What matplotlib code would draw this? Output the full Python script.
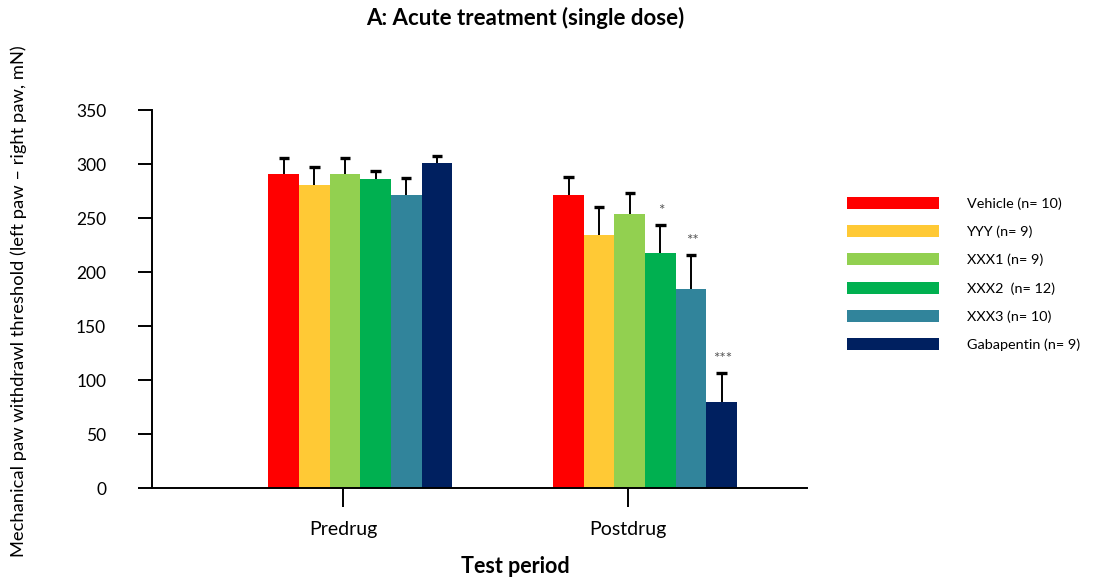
import matplotlib.pyplot as plt

plt.rcParams['font.family'] = ['Lato', 'DejaVu Sans']

periods = ["Predrug", "Postdrug"]
groups = ["Vehicle (n= 10)", "YYY (n= 9)", "XXX1 (n= 9)", "XXX2  (n= 12)",
          "XXX3 (n= 10)", "Gabapentin (n= 9)"]
colors = ["#FF0000", "#FFC935", "#92D050", "#00B050", "#31849B", "#002060"]

# mean and SEM per group, [predrug, postdrug]
means = [
    [291, 271],
    [281, 234],
    [291, 254],
    [286, 218],
    [271, 184],
    [301, 80],
]
errs = [
    [15, 17],
    [16, 26],
    [15, 19],
    [8, 26],
    [16, 32],
    [6, 27],
]
stars = [["", ""], ["", ""], ["", ""], ["", "*"], ["", "**"], ["", "***"]]

group_start = [0, 9.3]
bar_w = 1.0
cap = 0.17

fig = plt.figure(figsize=(10.94, 5.79), dpi=100)
ax = fig.add_axes([0.139, 0.157, 0.599, 0.653])

for i, name in enumerate(groups):
    xs = [g + i * bar_w + bar_w / 2 for g in group_start]
    tops = [m + e for m, e in zip(means[i], errs[i])]
    ax.bar(xs, means[i], width=bar_w, color=colors[i], label=name, zorder=2)
    # upper-only error bars
    ax.vlines(xs, means[i], tops, color="black", lw=1.4, zorder=3)
    ax.hlines(tops, [x - cap for x in xs], [x + cap for x in xs],
              color="black", lw=2.4, zorder=3)
    for k, x in enumerate(xs):
        if stars[i][k]:
            ax.annotate(stars[i][k], (x, tops[k]),
                        xytext=(1, 5), textcoords="offset points",
                        ha="center", va="bottom", fontsize=11, color="#555555")

ax.set_xlim(-3.8, 17.6)
ax.set_ylim(0, 350)
ax.set_xticks([g + 2.45 for g in group_start])
ax.set_xticklabels(periods, fontsize=14)
ax.set_yticks(range(0, 351, 50))
ax.tick_params(axis="y", direction="out", length=10, width=1.4, pad=23, labelsize=12.5)
ax.tick_params(axis="x", direction="out", length=14, width=1.4, pad=10)
for s in ["top", "right"]:
    ax.spines[s].set_visible(False)
ax.spines["left"].set_linewidth(1.4)
ax.spines["bottom"].set_linewidth(1.4)

ax.set_xlabel("Test period", fontsize=15.5, fontweight="bold")
ax.xaxis.set_label_coords(0.554, -0.18)
fig.text(0.017, 0.48, "Mechanical paw withdrawl threshold (left paw \u2013 right paw, mN)",
         rotation=90, ha="center", va="center", fontsize=13.2)
fig.suptitle("A: Acute treatment (single dose)", x=0.48, y=0.988,
             fontsize=16, fontweight="bold")

ax.legend(loc="upper left", bbox_to_anchor=(0.762, 0.682),
          bbox_transform=fig.transFigure, frameon=False, fontsize=10.4,
          handlelength=6.4, handleheight=0.9, handletextpad=1.9,
          labelspacing=1.05)

fig.savefig("out.png", dpi=100)
